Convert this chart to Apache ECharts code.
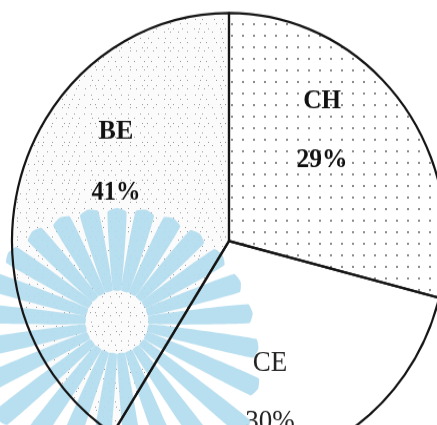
<!DOCTYPE html>
<html><head><meta charset="utf-8">
<script src="https://cdn.jsdelivr.net/npm/echarts@6/dist/echarts.min.js"></script>
<style>
html,body{margin:0;padding:0;background:#fff;overflow:hidden;}
#wrap{width:437px;height:425px;overflow:hidden;position:relative;background:#fff;}
#chart{width:437px;height:405px;transform:scaleY(1.0507);transform-origin:0 0;}
</style></head><body>
<div id="wrap"><div id="chart"></div></div>
<script>
// ---- data ----
const categories = ['CH', 'CE', 'BE'];
const shares = [29, 30, 41];

// ---- styling ----
const S = 1.0507; // vertical stretch of the scanned figure
const chart = echarts.init(document.getElementById('chart'), null, {renderer: 'canvas'});

const dotDecal = {
  symbol: 'circle', symbolSize: 1, color: '#666666',
  dashArrayX: [1.4, 8.1], dashArrayY: [1.4, 8.1]
};
const stippleDecal = {
  symbol: 'rect', symbolSize: 1, color: '#9a9a9a',
  dashArrayX: [[1, 9, 1, 6, 1, 11, 1, 7], [1, 6, 1, 12, 1, 5, 1, 9], [1, 11, 1, 4, 1, 8], [1, 7, 1, 8, 1, 10, 1, 5]],
  dashArrayY: [1, 3, 1, 4, 1, 2, 1, 5]
};
const fills = [
  {color: '#ffffff', decal: dotDecal},
  {color: '#ffffff', decal: {symbol: 'none', dashArrayX: [1, 0], dashArrayY: [1, 0], color: 'rgba(0,0,0,0)'}},
  {color: '#fbfbfb', decal: stippleDecal}
];
const labelOffsets = [[5, -37], [0, 41], [-6, -44]];
const rich = {
  n0: {fontFamily: 'Liberation Serif', fontWeight: 'bold', fontSize: 25, color: '#111', lineHeight: 56},
  p0: {fontFamily: 'Liberation Serif', fontWeight: 'bold', fontSize: 25.5, color: '#111', lineHeight: 56},
  n1: {fontFamily: 'Liberation Serif', fontWeight: 'normal', fontSize: 27, color: '#222', lineHeight: 56},
  p1: {fontFamily: 'Liberation Serif', fontWeight: 'normal', fontSize: 27, color: '#222', lineHeight: 56},
  n2: {fontFamily: 'Liberation Serif', fontWeight: 'bold', fontSize: 26, color: '#111', lineHeight: 58},
  p2: {fontFamily: 'Liberation Serif', fontWeight: 'bold', fontSize: 24.5, color: '#111', lineHeight: 58}
};

// watermark starburst (decoration)
const wmCx = 117, wmCy = 322;
const lensTable = [110,112,114,117,121,126,132,140,152,165,165,165,160,155,150,150,150,150,145,140,132,125,120,115,112];
const rays = lensTable.map((len, i) => {
  const t = (90 - i * 14.4) * Math.PI / 180, r0 = 32, w0 = 4, w1 = 9.5;
  const nx = -Math.sin(t), ny = Math.cos(t);
  const pt = (r, w) => [wmCx + r * Math.cos(t) + w * nx, (wmCy - r * Math.sin(t) - w * ny) / S];
  return {
    type: 'polygon', z: 2, silent: true,
    shape: {points: [pt(r0, -w0), pt(len, -w1), pt(len + 4, 0), pt(len, w1), pt(r0, w0)], smooth: 0.15},
    style: {fill: '#b2dcef', opacity: 0.92}
  };
});

const pieData = categories.map((c, i) => ({name: c, value: shares[i]}));

chart.setOption({
  animation: false,
  backgroundColor: '#ffffff',
  graphic: rays,
  series: [
    {
      type: 'pie', z: 1, silent: true,
      center: [229, 229.4], radius: 217, startAngle: 90, clockwise: true,
      label: {show: false}, labelLine: {show: false},
      data: pieData.map((d, i) => ({name: d.name, value: d.value,
        itemStyle: {color: fills[i].color, decal: fills[i].decal, borderWidth: 0}}))
    },
    {
      type: 'pie', z: 3, silent: true,
      center: [229, 229.4], radius: 217, startAngle: 90, clockwise: true,
      itemStyle: {color: 'rgba(0,0,0,0)', borderColor: '#151515', borderWidth: 2.2},
      label: {
        show: true, position: 'inside',
        formatter: p => `{n${p.dataIndex}|${p.name}}\n{p${p.dataIndex}|${p.value}%}`,
        rich: rich
      },
      labelLine: {show: false},
      labelLayout: p => ({dx: labelOffsets[p.dataIndex][0], dy: labelOffsets[p.dataIndex][1]}),
      data: pieData
    }
  ]
});
</script>
</body></html>
